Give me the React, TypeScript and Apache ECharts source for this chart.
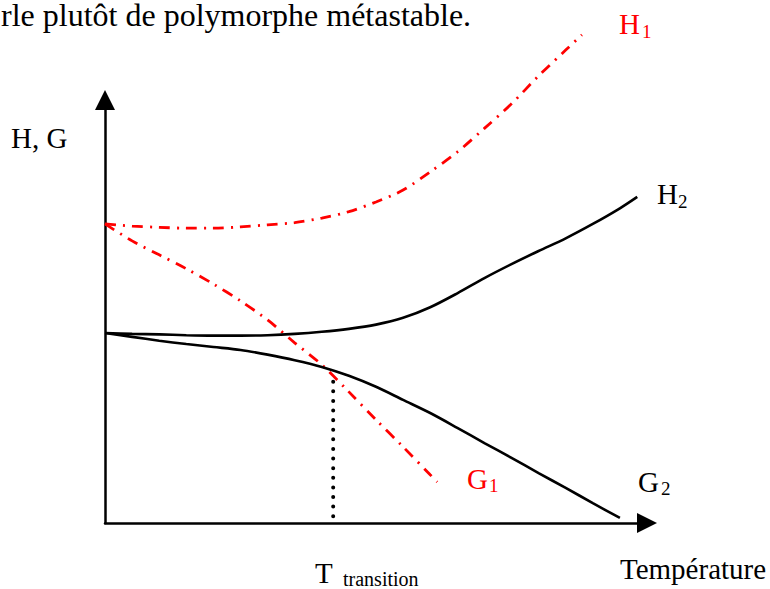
import React, { useEffect, useRef } from "react";
import * as echarts from "echarts";

// Schematic curves (unitless: x = temperature 0..100, y = H/G 0..100)
const X_STEPS = [0, 5, 10, 15, 20, 25, 30, 35, 40, 45, 50, 55, 60, 65, 70, 75, 80, 85, 90, 95];
const H1_Y = [70.7, 70.2, 69.9, 69.7, 69.7, 70.0, 70.5, 71.0, 72.1, 73.6, 75.9, 78.7, 83.0, 87.7, 93.3, 99.1, 105.7, 111.8];
const H1_END: [number, number] = [88.0, 115.4];
const H2_Y = [44.9, 44.7, 44.6, 44.4, 44.3, 44.3, 44.4, 44.7, 45.2, 45.9, 46.9, 48.5, 51.0, 54.3, 57.9, 61.2, 64.3, 67.3, 70.7, 74.4];
const H2_END: [number, number] = [98.2, 77.1];
const G1_Y = [70.7, 66.7, 63.4, 60.1, 56.5, 52.5, 48.0, 42.6, 37.4, 31.0, 24.4, 18.0, 11.4];
const G1_END: [number, number] = [61.3, 9.7];
const G2_Y = [44.9, 44.0, 43.1, 42.3, 41.6, 40.9, 39.8, 38.5, 36.9, 34.8, 32.2, 29.1, 26.0, 22.5, 18.9, 15.4, 11.8, 8.3, 4.7, 1.2];
const T_TRANSITION = 42.1;
const TRANSITION_LINE: [number, number][] = [[T_TRANSITION, 1.6], [T_TRANSITION, 35.4]];

const SERIF = "Liberation Serif";
const RED = "#ff0000";

function pts(ys: number[], end?: [number, number]): [number, number][] {
  const out: [number, number][] = ys.map((y, i) => [X_STEPS[i], y]);
  if (end) out.push(end);
  return out;
}

function txt(text: string, x: number, baseline: number, size: number, color = "#000", lineHeight?: number) {
  return {
    type: "text",
    x,
    y: baseline - 0.3375 * size,
    silent: true,
    style: {
      text,
      fill: color,
      fontFamily: SERIF,
      fontSize: size,
      lineHeight: lineHeight ?? size,
      align: "left",
      verticalAlign: "middle",
    },
  };
}

export default function App() {
  const ref = useRef<HTMLDivElement>(null);
  useEffect(() => {
    if (!ref.current) return;
    const chart = echarts.init(ref.current, undefined, { renderer: "svg" });
    const axisCommon = {
      type: "value",
      min: 0,
      max: 100,
      axisTick: { show: false },
      axisLabel: { show: false },
      splitLine: { show: false },
      axisLine: {
        show: true,
        onZero: false,
        symbol: ["none", "triangle"],
        symbolSize: [20, 20],
        lineStyle: { color: "#000", width: 2.5 },
      },
    };
    const redDash = { color: RED, width: 2.8, type: [11, 7, 2, 7], cap: "butt" };
    const black = { color: "#000", width: 2.6 };
    const lineBase = {
      type: "line",
      showSymbol: false,
      symbol: "none",
      clip: false,
      silent: true,
      smooth: 0.3,
    };
    chart.setOption({
      animation: false,
      backgroundColor: "#fff",
      grid: { left: 105, right: 123, top: 100, bottom: 66 },
      xAxis: axisCommon,
      yAxis: axisCommon,
      series: [
        { ...lineBase, name: "H1", data: pts(H1_Y, H1_END), lineStyle: redDash },
        { ...lineBase, name: "G1", data: pts(G1_Y, G1_END), lineStyle: redDash },
        { ...lineBase, name: "H2", data: pts(H2_Y, H2_END), lineStyle: black },
        { ...lineBase, name: "G2", data: pts(G2_Y), lineStyle: black },
        {
          ...lineBase,
          smooth: false,
          name: "transition",
          data: TRANSITION_LINE,
          lineStyle: { color: "#000", width: 4, type: [0.01, 9.6], cap: "round" },
        },
      ],
      graphic: [
        txt("rle plutôt de polymorphe métastable.", 1, 26, 32, "#000", 26),
        txt("H, G", 11, 148, 29),
        txt("H", 619, 34, 29, RED),
        txt("1", 642, 38, 19, RED),
        txt("H", 657, 204, 29),
        txt("2", 678, 208, 19),
        txt("G", 467, 489, 29, RED),
        txt("1", 489, 492, 19, RED),
        txt("G", 638, 492, 29),
        txt("2", 661, 495, 19),
        txt("T", 315, 583, 29),
        txt("transition", 343, 586, 20),
        txt("Température", 620, 579, 29),
      ],
    });
    return () => chart.dispose();
  }, []);
  return <div ref={ref} style={{ width: 770, height: 589, position: "fixed", left: 0, top: 0 }} />;
}
